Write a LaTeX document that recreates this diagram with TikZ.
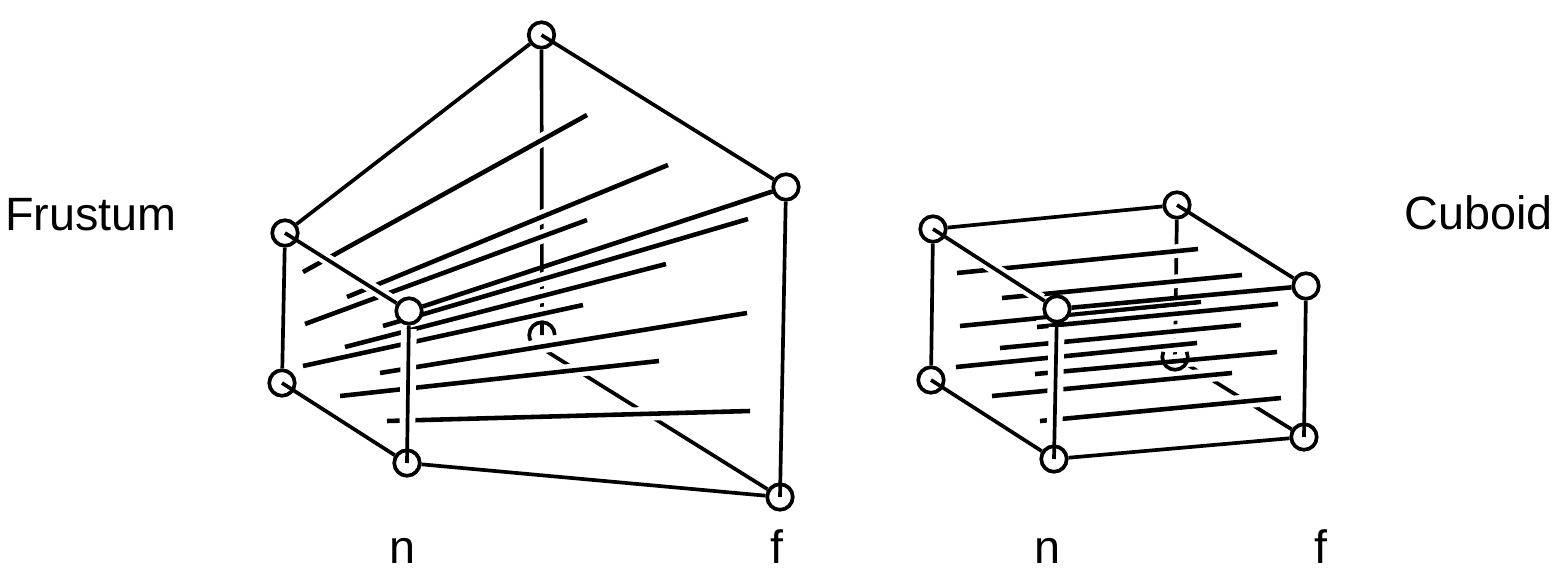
\documentclass[tikz,border=0pt]{standalone}
\usepackage{fontspec}
\setmainfont{Liberation Sans}

\tikzstyle{vertex}=[circle,draw,fill=white,line width=1.05pt,minimum size=0.255cm,inner sep=0pt]
\tikzstyle{hidden}=[circle,minimum size=0.255cm,inner sep=0pt]
\tikzstyle{edge} = [draw,line width=1.05pt,-]
\tikzstyle{ray} = [draw,line width=1.3pt,preaction={draw=white,line width=3.9pt}]
\tikzstyle{cover} = [preaction={draw=white,line width=3.3pt,shorten <=5pt,shorten >=1pt}]
\tikzstyle{cover wide} = [preaction={draw=white,line width=4.5pt,shorten <=5pt,shorten >=1pt}]
\tikzstyle{caption}=[font=\fontsize{13.3}{16}\selectfont,inner sep=0pt,anchor=base]

\begin{document}
\begin{tikzpicture}
	\useasboundingbox (0,0) rectangle (15.64,5.68);
	\node[caption] (frustum) at (0.91,3.38) {Frustum};
	\node[caption] (cuboid) at (14.785,3.39) {Cuboid};
	\node[caption] (near1) at (4.02,0.05) {n};
	\node[caption] (far1) at (7.77,0.05) {f};
	\node[caption] (near2) at (10.47,0.05) {n};
	\node[caption] (far2) at (13.21,0.05) {f};

	% Frustum: far corners first
	\node[vertex] (e1) at (5.415,5.33) {};
	\node[vertex] (f1) at (7.86,3.81) {};
	\node[vertex] (g1) at (7.80,0.71) {};
	\node[hidden] (h1) at (5.42,2.33) {};
	% hidden edges
	\path[edge] (e1) -- (h1.center);
	\path[edge] (h1.south) -- (g1);
	% depth lines
	\foreach \name/\px/\py in {fn11/3.03/2.96, fn12/3.05/2.44, fn13/3.03/2.02,
			fn21/3.47/2.71, fn22/3.45/2.21, fn23/3.40/1.72,
			fn31/3.83/2.42, fn32/3.80/1.95, fn33/3.87/1.47,
			ff11/5.87/4.53, ff12/5.87/3.48, ff13/5.83/2.63,
			ff21/6.68/4.03, ff22/6.66/3.04, ff23/6.59/2.07,
			ff31/7.48/3.49, ff32/7.47/2.55, ff33/7.50/1.57}
		\coordinate (\name) at (\px,\py);
	\foreach \i in {1,2,3}
		\foreach \j in {1,2,3}
			\path[ray] (fn\i\j) -- (ff\i\j);
	\draw[line width=1.05pt] ([shift={(0:0.1275)}]h1.center) arc[start angle=0,end angle=206,radius=0.1275];
	% near corners
	\node[vertex] (a1) at (2.85,3.35) {};
	\node[vertex] (b1) at (4.09,2.57) {};
	\node[vertex] (c1) at (2.82,1.85) {};
	\node[vertex] (d1) at (4.07,1.05) {};
	% Connect vertices with edges
	\foreach \source/\dest in {a1/e1, e1.center/f1, a1/c1, c1.center/d1, d1/g1, f1/g1.center}
		\path[edge] (\source) -- (\dest);
	\path[edge,line width=1.3pt] (b1) -- (f1);
	\path[edge,cover] (a1.center) -- (b1);
	\path[edge,cover wide] (d1.center) -- (b1);

	% Cuboid: far corners first
	\node[vertex] (e2) at (11.77,3.63) {};
	\node[vertex] (f2) at (13.06,2.82) {};
	\node[vertex] (g2) at (13.04,1.31) {};
	\node[hidden] (h2) at (11.75,2.11) {};
	% hidden edges
	\path[edge] (e2) -- (h2.center);
	\path[edge] (h2) -- (g2);
	% depth lines
	\foreach \name/\px/\py in {cn11/9.57/2.95, cn12/9.60/2.42, cn13/9.56/2.01,
			cn21/10.02/2.70, cn22/10.00/2.20, cn23/9.92/1.72,
			cn31/10.37/2.41, cn32/10.35/1.94, cn33/10.40/1.47,
			cf11/11.98/3.19, cf12/12.01/2.66, cf13/11.97/2.25,
			cf21/12.42/2.93, cf22/12.41/2.43, cf23/12.32/1.95,
			cf31/12.78/2.64, cf32/12.77/2.16, cf33/12.81/1.70}
		\coordinate (\name) at (\px,\py);
	\foreach \i in {1,2,3}
		\foreach \j in {1,2,3}
			\path[ray] (cn\i\j) -- (cf\i\j);
	\draw[line width=1.05pt] ([shift={(24:0.1275)}]h2.center) arc[start angle=24,end angle=-204,radius=0.1275];
	% near corners
	\node[vertex] (a2) at (9.33,3.39) {};
	\node[vertex] (b2) at (10.57,2.59) {};
	\node[vertex] (c2) at (9.31,1.88) {};
	\node[vertex] (d2) at (10.54,1.09) {};
	% Connect vertices with edges
	\foreach \source/\dest in {a2/e2, e2.center/f2, a2/c2, c2.center/d2, d2/g2, f2/g2.center}
		\path[edge] (\source) -- (\dest);
	\path[edge,line width=1.3pt] (b2) -- (f2);
	\path[edge,cover] (a2.center) -- (b2);
	\path[edge,cover wide] (d2.center) -- (b2);
\end{tikzpicture}
\end{document}
